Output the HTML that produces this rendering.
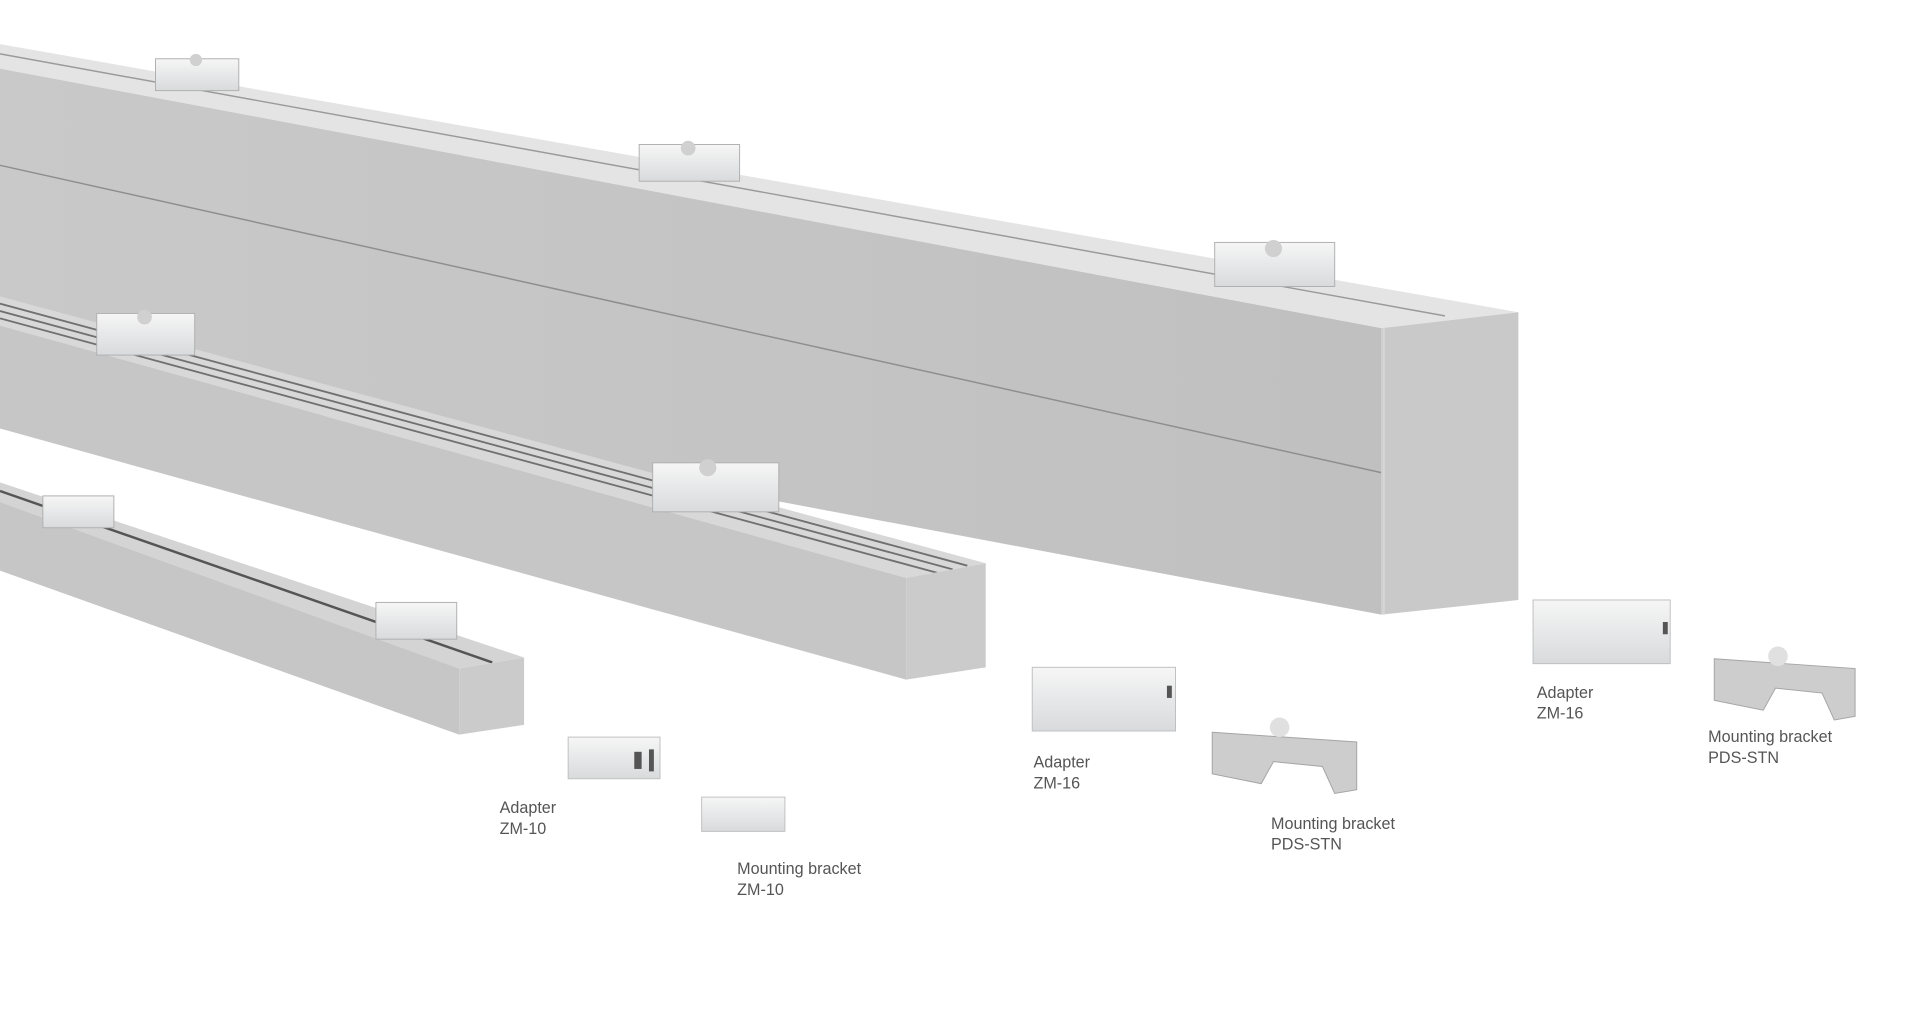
<!DOCTYPE html>
<html><head><meta charset="utf-8"><style>
html,body{margin:0;padding:0;background:#fff;}
svg{display:block;}
text{font-family:"Liberation Sans",sans-serif;font-size:13.2px;fill:#555;}
</style></head><body>
<svg width="1920" height="1012" viewBox="0 0 1568 826.5" preserveAspectRatio="none">
<defs>
<linearGradient id="fr" x1="0" y1="0" x2="1" y2="0"><stop offset="0" stop-color="#c9c9c9"/><stop offset="1" stop-color="#c0c0c0"/></linearGradient>
<linearGradient id="cl" x1="0" y1="0" x2="0" y2="1"><stop offset="0" stop-color="#f6f6f6"/><stop offset="1" stop-color="#d8dadc"/></linearGradient>
</defs>
<rect width="1568" height="826.5" fill="#fff"/>
<!-- Big bar -->
<polygon points="0,36 1240,255 1128,268 0,56" fill="#e4e4e4"/>
<line x1="0" y1="44" x2="1180" y2="258" stroke="#9a9a9a" stroke-width="1.2"/>
<polygon points="0,56 1128,268 1128,502 0,290" fill="url(#fr)"/>
<line x1="0" y1="135" x2="1128" y2="386" stroke="#8e8e8e" stroke-width="1.2"/>
<polygon points="1128,268 1240,255 1240,490 1128,502" fill="#c9c9c9"/>
<line x1="1130" y1="268" x2="1130" y2="502" stroke="#d6d6d6" stroke-width="2"/>
<!-- Medium bar -->
<polygon points="0,242 805,460 740,472 0,266" fill="#d8d8d8"/>
<line x1="0" y1="248" x2="790" y2="462" stroke="#707070" stroke-width="1.5"/>
<line x1="0" y1="254" x2="778" y2="465" stroke="#707070" stroke-width="1.5"/>
<line x1="0" y1="260" x2="766" y2="468" stroke="#707070" stroke-width="1.5"/>
<polygon points="0,266 740,472 740,555 0,350" fill="#c6c6c6"/>
<polygon points="740,472 805,460 805,545 740,555" fill="#cbcbcb"/>
<!-- Small bar -->
<polygon points="0,394 428,537 375,546 0,410" fill="#d4d4d4"/>
<line x1="0" y1="401" x2="402" y2="541" stroke="#555" stroke-width="2"/>
<polygon points="0,410 375,546 375,600 0,466" fill="#c6c6c6"/>
<polygon points="375,546 428,537 428,592 375,600" fill="#cbcbcb"/>
<!-- clips on bars -->
<g fill="url(#cl)" stroke="#b0b0b0" stroke-width="0.8">
<rect x="127" y="48" width="68" height="26"/>
<rect x="522" y="118" width="82" height="30"/>
<rect x="992" y="198" width="98" height="36"/>
<rect x="79" y="256" width="80" height="34"/>
<rect x="533" y="378" width="103" height="40"/>
<rect x="35" y="405" width="58" height="26"/>
<rect x="307" y="492" width="66" height="30"/>
</g>
<g fill="#d0d0d0"><circle cx="160" cy="49" r="5"/><circle cx="562" cy="121" r="6"/><circle cx="1040" cy="203" r="7"/><circle cx="118" cy="259" r="6"/><circle cx="578" cy="382" r="7"/></g>
<!-- loose parts -->
<g fill="url(#cl)" stroke="#c0c0c0" stroke-width="0.8">
<rect x="464" y="602" width="75" height="34"/>
<rect x="573" y="651" width="68" height="28"/>
<rect x="843" y="545" width="117" height="52"/>
<rect x="1252" y="490" width="112" height="52"/>
</g>
<g fill="#555"><rect x="518" y="614" width="6" height="14"/><rect x="530" y="612" width="4" height="18"/><rect x="953" y="560" width="4" height="10"/><rect x="1358" y="508" width="4" height="10"/></g>
<g fill="#cdcdcd" stroke="#a5a5a5" stroke-width="0.8">
<polygon points="990,598 1108,606 1108,645 1090,648 1080,626 1040,622 1030,640 990,632"/>
<polygon points="1400,538 1515,546 1515,585 1498,588 1488,566 1450,562 1440,580 1400,572"/>
</g>
<g fill="#e0e0e0"><circle cx="1045" cy="594" r="8"/><circle cx="1452" cy="536" r="8"/></g>
<!-- labels -->
<text x="408" y="664">Adapter</text><text x="408" y="681">ZM-10</text>
<text x="602" y="714">Mounting bracket</text><text x="602" y="731">ZM-10</text>
<text x="844" y="627">Adapter</text><text x="844" y="644">ZM-16</text>
<text x="1038" y="677">Mounting bracket</text><text x="1038" y="694">PDS-STN</text>
<text x="1255" y="570">Adapter</text><text x="1255" y="587">ZM-16</text>
<text x="1395" y="606">Mounting bracket</text><text x="1395" y="623">PDS-STN</text>
</svg>
</body></html>
